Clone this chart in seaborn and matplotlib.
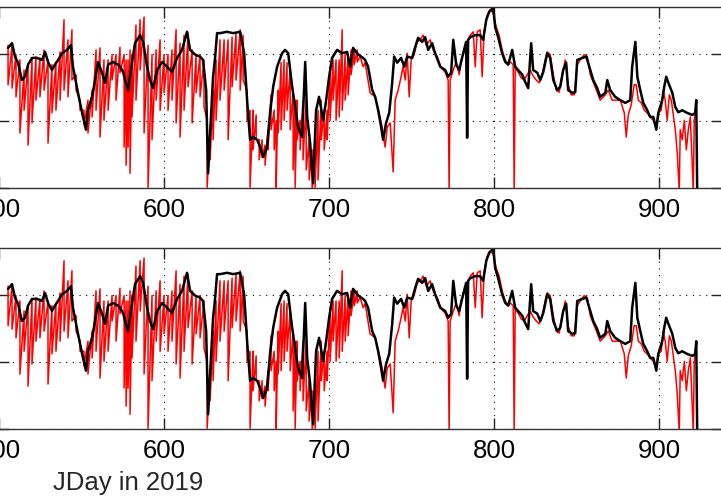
import matplotlib
matplotlib.use("Agg")
import matplotlib.pyplot as plt
import seaborn as sns
import pandas as pd

# ---- data ----
black_day = [505.5, 507.9, 509.7, 511.5, 513.9, 515.8, 517.6, 520.0, 523.0, 526.1, 527.9, 529.7,
             532.1, 533.9, 535.8, 538.2, 541.2, 543.6, 544.8, 547.3, 549.1, 550.9, 552.7, 553.9,
             556.4, 558.2, 560.0, 562.4, 564.2, 566.1, 569.1, 572.1, 573.3, 575.2, 576.4, 578.2,
             580.6, 582.4, 585.5, 587.3, 589.7, 591.5, 593.3, 595.8, 598.8, 601.8, 604.8, 607.9,
             610.9, 613.9, 615.8, 618.8, 621.8, 623.6, 625.5, 626.7, 627.9, 629.7, 630.9, 632.1,
             633.9, 638.2, 641.8, 646.1, 646.7, 648.5, 650.3, 652.1, 653.9, 656.4, 658.2, 660.0,
             662.4, 664.2, 666.1, 668.5, 671.5, 673.3, 675.2, 677.6, 679.4, 681.2, 683.6, 685.5,
             686.7, 688.5, 690.3, 692.1, 693.9, 696.4, 698.2, 700.0, 701.8, 704.8, 707.9, 710.9,
             712.7, 714.5, 717.6, 720.6, 721.8, 723.6, 726.1, 727.9, 729.7, 731.5, 732.7, 734.5,
             736.4, 738.2, 739.4, 741.2, 743.6, 745.5, 747.3, 750.3, 752.1, 753.9, 756.4, 758.2,
             760.0, 762.4, 764.2, 767.3, 770.3, 772.1, 773.9, 775.2, 777.0, 778.8, 781.2, 783.0,
             783.6, 784.2, 785.5, 788.5, 791.5, 793.3, 795.2, 797.0, 799.4, 800.6, 802.4, 804.8,
             806.7, 808.5, 810.9, 812.7, 814.5, 817.0, 818.8, 820.6, 822.4, 823.6, 826.1, 827.9,
             829.7, 832.1, 833.9, 835.8, 838.2, 840.0, 841.8, 843.6, 844.8, 847.3, 849.1, 850.3,
             853.3, 855.8, 858.2, 860.0, 862.4, 864.2, 867.3, 868.5, 870.3, 873.3, 876.4, 879.4,
             882.4, 883.6, 885.5, 886.7, 888.5, 890.3, 892.7, 894.5, 896.4, 898.2, 899.4, 901.8,
             903.0, 904.2, 905.5, 907.9, 909.7, 911.5, 913.9, 916.9, 920.0, 921.8, 922.4, 923.0]
black_val = [2.09, 2.16, 1.96, 1.87, 1.61, 1.66, 1.84, 1.94, 1.94, 1.91, 2.03, 1.88,
             1.76, 1.84, 1.91, 2.01, 2.06, 2.13, 1.81, 1.49, 1.27, 1.06, 0.87, 1.16,
             1.36, 1.61, 1.88, 1.72, 1.57, 1.84, 1.88, 1.84, 1.81, 1.73, 1.61, 1.46,
             1.87, 2.16, 2.28, 2.18, 1.81, 1.61, 1.49, 1.76, 1.88, 1.81, 1.73, 1.94,
             2.06, 2.33, 2.06, 1.99, 1.96, 1.91, 1.46, 0.22, 0.82, 1.66, 1.94, 2.31,
             2.31, 2.33, 2.31, 2.33, 2.25, 2.01, 1.31, 0.72, 0.76, 0.72, 0.61, 0.46,
             0.61, 1.12, 1.51, 1.81, 2.01, 2.06, 2.01, 1.51, 1.21, 0.91, 0.76, 1.88,
             1.06, 0.67, 0.07, 1.16, 1.36, 1.01, 1.31, 1.66, 1.94, 2.06, 2.01, 2.03,
             1.81, 2.09, 1.99, 1.94, 1.91, 1.81, 1.46, 1.36, 1.16, 0.91, 0.72, 0.97,
             1.12, 1.57, 1.96, 1.87, 1.94, 1.81, 1.96, 1.94, 2.10, 2.24, 2.18, 2.25,
             2.06, 2.16, 2.01, 1.81, 1.76, 1.66, 1.72, 2.21, 1.84, 1.76, 2.01, 2.18,
             0.75, 2.21, 2.25, 2.28, 2.28, 2.21, 2.51, 2.63, 2.69, 2.40, 2.25, 2.01,
             1.88, 1.84, 2.06, 1.81, 1.76, 1.69, 1.58, 1.49, 2.16, 1.76, 1.72, 1.61,
             1.73, 2.01, 1.94, 1.61, 1.46, 1.51, 1.76, 1.87, 1.46, 1.42, 1.43, 1.91,
             1.94, 1.96, 1.76, 1.61, 1.49, 1.36, 1.42, 1.61, 1.46, 1.36, 1.31, 1.27,
             1.31, 1.81, 2.18, 1.66, 1.46, 1.27, 1.16, 1.06, 1.06, 0.87, 1.12, 1.31,
             1.51, 1.66, 1.57, 1.42, 1.21, 1.13, 1.16, 1.12, 1.09, 1.12, 1.31, -0.10]

# red series, noisy part (day 505-717): top and bottom of each red stroke
red_band_day = [505.5, 507.9, 510.3, 512.7, 515.2, 517.6, 520.0, 522.4, 524.8, 527.3, 529.7, 532.1,
                534.5, 537.0, 539.4, 541.8, 544.2, 546.7, 549.1, 551.5, 553.9, 556.4, 558.8, 561.2,
                563.6, 566.1, 568.5, 570.9, 573.3, 575.8, 577.0, 578.2, 579.4, 580.6, 583.0, 585.5,
                587.9, 590.3, 592.7, 595.2, 597.6, 600.0, 602.4, 604.8, 607.3, 609.7, 612.1, 614.5,
                617.0, 619.4, 621.8, 624.2, 626.1, 627.9, 629.7, 631.5, 633.9, 636.4, 638.8, 641.2,
                643.6, 646.1, 647.9, 650.3, 652.1, 653.9, 655.8, 657.6, 659.4, 661.2, 663.0, 664.8,
                666.7, 667.9, 669.1, 670.9, 672.7, 674.5, 676.4, 678.2, 679.4, 680.6, 682.4, 684.2,
                686.1, 687.9, 689.7, 691.5, 693.3, 695.2, 697.0, 698.8, 700.6, 702.4, 704.2, 706.1,
                707.9, 709.7, 711.5, 713.3, 715.2, 717.0]
red_band_hi = [2.13, 2.13, 1.99, 1.91, 1.76, 1.84, 1.94, 1.96, 1.94, 2.06, 1.91, 1.84,
               1.88, 2.03, 2.51, 2.21, 2.36, 1.69, 1.31, 1.16, 1.31, 1.46, 2.06, 2.09,
               1.91, 1.91, 1.99, 1.99, 2.10, 1.99, 1.91, 1.91, 2.06, 1.99, 2.43, 2.51,
               2.55, 2.13, 1.99, 2.06, 2.21, 1.99, 1.99, 2.06, 2.36, 2.16, 2.28, 2.31,
               2.06, 1.99, 1.99, 1.91, 1.01, 0.87, 1.46, 1.91, 2.21, 2.21, 2.21, 2.25,
               2.31, 2.36, 2.28, 1.46, 1.16, 1.16, 1.09, 0.72, 0.72, 0.64, 0.87, 1.39,
               1.16, 1.01, 1.46, 1.87, 1.91, 1.87, 1.76, 1.46, 1.31, 1.31, 1.01, 1.31,
               1.31, 0.72, 0.57, 0.72, 1.16, 1.31, 1.16, 1.16, 1.81, 1.91, 1.91, 1.91,
               2.36, 1.99, 1.99, 2.06, 2.06, 2.06]
red_band_lo = [1.54, 1.49, 1.36, 0.82, 1.16, 0.64, 0.97, 1.31, 1.36, 1.46, 0.67, 1.12,
               1.16, 1.31, 1.46, 1.36, 1.61, 1.46, 1.16, 0.94, 0.82, 1.06, 1.16, 0.76,
               1.01, 1.16, 1.61, 1.31, 1.72, 0.61, 0.34, 0.61, 0.22, 1.06, 1.31, 1.76,
               0.82, 0.01, 0.72, 1.31, 1.16, 1.42, 1.16, 1.31, 0.97, 0.76, 1.16, 1.51,
               0.97, 1.42, 1.36, 1.21, 0.01, 0.42, 0.72, 1.01, 1.31, 1.46, 0.72, 1.51,
               1.61, 1.46, 1.61, 1.01, 0.01, 0.57, 0.72, 0.42, 0.46, 0.34, 0.57, 0.87,
               0.57, 0.01, 0.82, 0.87, 1.01, 1.16, 0.87, 0.27, 0.01, 0.72, 0.57, 0.42,
               0.27, 0.12, -0.05, 0.01, 0.12, 0.72, 0.57, 0.72, 1.01, 1.31, 1.01, 1.06,
               1.16, 1.31, 1.39, 1.69, 1.84, 1.88]

# red series, calmer part (day 718-922)
red_tail_day = [718.8, 720.6, 721.8, 724.8, 727.9, 730.9, 732.1, 733.9, 735.2, 737.0, 738.8, 740.0,
                741.8, 743.6, 744.8, 746.1, 747.3, 748.5, 749.7, 751.5, 753.3, 755.2, 757.0, 758.8,
                761.2, 763.0, 765.5, 767.9, 770.3, 772.1, 772.7, 773.3, 775.2, 777.0, 778.8, 780.0,
                781.8, 783.6, 785.5, 787.3, 788.5, 789.7, 791.5, 792.7, 793.9, 795.8, 797.6, 799.4,
                801.2, 803.0, 804.8, 806.7, 808.5, 809.7, 811.5, 812.1, 812.7, 814.5, 816.4, 818.2,
                820.0, 821.8, 823.6, 825.5, 827.3, 829.1, 830.9, 832.1, 833.9, 835.8, 837.6, 839.4,
                841.2, 843.0, 844.8, 846.7, 848.5, 850.3, 852.1, 854.5, 856.4, 858.2, 860.6, 862.4,
                864.2, 867.3, 869.1, 871.5, 873.9, 876.4, 878.8, 880.0, 881.2, 883.0, 884.8, 886.1,
                887.3, 889.1, 890.9, 892.7, 894.5, 896.4, 898.2, 899.4, 901.2, 902.4, 903.6, 904.8,
                906.1, 907.3, 908.5, 909.7, 910.9, 912.1, 912.7, 913.9, 915.2, 916.4, 917.6, 918.8,
                920.0, 920.6, 921.2, 922.4]
red_tail_val = [1.96, 1.81, 1.87, 1.42, 1.36, 1.06, 0.91, 0.61, 0.91, 0.97, 0.24, 1.31,
                1.46, 1.66, 1.81, 1.61, 2.01, 1.36, 1.91, 1.99, 2.18, 2.21, 2.28, 2.13,
                2.21, 2.06, 1.96, 1.79, 1.73, 1.61, -0.05, 1.61, 1.76, 1.88, 1.69, 1.91,
                2.03, 2.18, 2.28, 2.33, 1.81, 2.33, 2.36, 1.66, 2.33, 2.58, 2.66, 2.61,
                2.40, 2.28, 2.06, 1.91, 1.84, 1.88, 1.84, -0.05, 1.79, 1.73, 1.64, 1.61,
                1.69, 1.76, 1.67, 1.61, 1.57, 1.69, 1.91, 2.03, 1.99, 1.69, 1.46, 1.43,
                1.69, 1.91, 1.54, 1.39, 1.39, 1.84, 1.91, 1.99, 1.96, 1.69, 1.54, 1.43,
                1.31, 1.39, 1.46, 1.31, 1.31, 1.31, 1.12, 0.76, 1.09, 1.24, 1.54, 1.54,
                1.31, 1.27, 1.16, 1.12, 1.06, 1.01, 0.91, 1.12, 1.16, 1.46, 1.31, 1.01,
                1.39, 1.31, 1.09, 0.87, 0.52, -0.05, 0.87, 0.72, 1.01, 0.57, 0.87, 1.06,
                0.34, -0.05, 1.01, 1.31]

x_ticks = [500, 600, 700, 800, 900]
x_tick_labels = ["500", "600", "700", "800", "900"]
y_ticks = [0, 1, 2]
x_label = "JDay in 2019"

# red path: each noisy sample is a vertical stroke from its top to its bottom
red_day, red_val = [], []
for d, hi, lo in zip(red_band_day, red_band_hi, red_band_lo):
    red_day += [d, d]
    red_val += [hi, lo]
red_day += red_tail_day
red_val += red_tail_val

red_df = pd.DataFrame({"day": red_day, "val": red_val})
black_df = pd.DataFrame({"day": black_day, "val": black_val})

sns.set_theme(style="white")
plt.rcParams["font.family"] = ["Liberation Sans", "DejaVu Sans"]

W, H = 721, 503
fig = plt.figure(figsize=(W / 100, H / 100), dpi=100)
ax1 = fig.add_axes([-2 / W, 1 - 188 / H, 724 / W, 181 / H])
ax2 = fig.add_axes([-2 / W, 1 - 429 / H, 724 / W, 181 / H])

for ax in (ax1, ax2):
    sns.lineplot(data=red_df, x="day", y="val", ax=ax, color="red", lw=1.1,
                 sort=False, estimator=None)
    sns.lineplot(data=black_df, x="day", y="val", ax=ax, color="black", lw=1.8,
                 sort=False, estimator=None)
    ax.set_xlim(499.4, 938)
    ax.set_ylim(0, 2.70)
    ax.set_xticks(x_ticks)
    ax.set_xticklabels(x_tick_labels)
    ax.set_yticks(y_ticks)
    ax.set_yticklabels([])
    ax.set_xlabel("")
    ax.set_ylabel("")
    ax.tick_params(axis="both", direction="in", length=8, width=1, color="#222222",
                   top=True, bottom=True, left=True, right=True,
                   labelsize=18.5, pad=7.5, labelcolor="black")
    ax.grid(True, color="black", linestyle=(0, (1, 5)), lw=0.8)
    ax.set_axisbelow(True)
    for s in ax.spines.values():
        s.set_color("#333333")
        s.set_linewidth(1.0)

fig.text(53 / W, 1 - 490 / H, x_label, fontsize=18.5, ha="left", va="baseline")

fig.savefig("out.png", dpi=100)
